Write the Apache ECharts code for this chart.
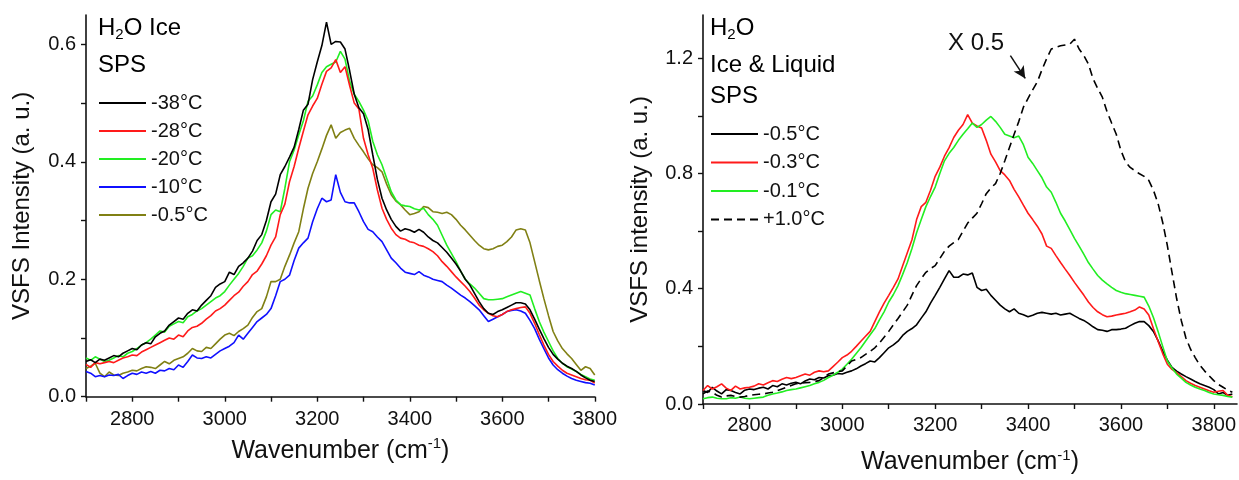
<!DOCTYPE html>
<html>
<head>
<meta charset="utf-8">
<script src="https://cdn.jsdelivr.net/npm/echarts@6/dist/echarts.min.js"></script>
<style>
html,body{margin:0;padding:0;background:#fff;}
#c1{position:absolute;left:0;top:0;width:620px;height:480px;}
#c2{position:absolute;left:620px;top:0;width:619px;height:480px;}
</style>
</head>
<body>
<div id="c1"></div>
<div id="c2"></div>
<script>
// ---------- Left panel: H2O Ice, SPS ----------
const waveL = [];
for (let w = 2700; w <= 3800; w += 10) waveL.push(w);
const namesL = ['-38°C', '-28°C', '-20°C', '-10°C', '-0.5°C'];
const colorsL = ['#000000', '#ff1a1a', '#22ee22', '#1010ff', '#808014'];
const m38 = [
.060,.063,.058,.064,.062,.066,.070,.068,.074,.078,
.082,.080,.088,.092,.090,.102,.108,.112,.122,.128,
.134,.132,.142,.148,.146,.156,.164,.172,.186,.192,
.196,.212,.208,.222,.228,.236,.248,.266,.276,.300,
.332,.345,.378,.392,.408,.425,.455,.488,.498,.540,
.570,.598,.638,.600,.605,.604,.592,.555,.515,.492,
.482,.455,.412,.370,.338,.318,.302,.290,.282,.286,
.284,.280,.285,.280,.272,.266,.262,.254,.246,.236,
.226,.214,.200,.190,.176,.162,.150,.142,.140,.145,
.148,.152,.156,.160,.160,.158,.148,.132,.115,.099,
.084,.072,.064,.057,.052,.048,.043,.037,.032,.028,.026];
const m28 = [
.055,.050,.058,.056,.058,.060,.058,.062,.066,.068,
.071,.070,.076,.080,.084,.088,.092,.096,.100,.098,
.105,.102,.112,.118,.120,.125,.132,.138,.146,.150,
.156,.164,.172,.178,.188,.196,.208,.214,.226,.240,
.258,.272,.310,.328,.366,.392,.423,.452,.480,.495,
.508,.532,.554,.560,.574,.552,.562,.530,.500,.490,
.440,.412,.389,.352,.321,.302,.287,.276,.270,.268,
.264,.262,.258,.256,.252,.247,.240,.230,.222,.213,
.204,.196,.188,.179,.168,.156,.148,.142,.138,.136,
.140,.145,.148,.150,.152,.153,.142,.125,.106,.088,
.072,.060,.052,.045,.040,.037,.034,.031,.029,.028,.023];
const m20 = [
.066,.062,.068,.064,.060,.062,.066,.070,.068,.074,
.077,.082,.088,.092,.098,.105,.112,.110,.120,.124,
.128,.126,.136,.140,.146,.150,.156,.162,.168,.172,
.179,.190,.200,.210,.222,.236,.240,.250,.262,.282,
.310,.318,.315,.355,.400,.420,.446,.470,.503,.512,
.531,.552,.562,.566,.570,.588,.575,.537,.515,.503,
.488,.470,.435,.412,.395,.372,.349,.335,.327,.325,
.324,.320,.318,.321,.310,.302,.292,.275,.258,.244,
.230,.214,.200,.192,.185,.176,.167,.165,.165,.166,
.167,.170,.173,.176,.179,.176,.173,.150,.128,.110,
.094,.078,.065,.057,.051,.047,.043,.038,.034,.030,.028];
const m10 = [
.043,.040,.034,.036,.034,.037,.036,.038,.031,.036,
.040,.038,.042,.040,.043,.040,.045,.044,.048,.046,
.054,.050,.060,.071,.066,.065,.068,.066,.072,.078,
.082,.086,.092,.105,.098,.108,.118,.128,.134,.140,
.150,.172,.196,.200,.207,.232,.253,.262,.270,.298,
.320,.338,.332,.335,.378,.348,.332,.330,.330,.315,
.298,.285,.281,.272,.264,.250,.236,.228,.219,.212,
.210,.208,.213,.207,.204,.200,.198,.196,.190,.185,
.179,.173,.168,.162,.155,.148,.138,.128,.132,.136,
.140,.145,.147,.148,.146,.142,.130,.116,.098,.082,
.066,.054,.046,.040,.035,.031,.028,.026,.024,.023,.020];
const m05 = [
.048,.052,.057,.040,.034,.042,.037,.036,.040,.042,
.045,.044,.048,.051,.050,.048,.054,.060,.056,.062,
.065,.068,.074,.082,.078,.077,.084,.082,.090,.098,
.105,.108,.104,.111,.116,.122,.135,.145,.150,.170,
.196,.196,.200,.222,.241,.262,.281,.320,.355,.380,
.400,.422,.445,.463,.440,.450,.454,.457,.440,.428,
.417,.405,.395,.390,.383,.362,.344,.333,.327,.318,
.310,.312,.315,.324,.322,.315,.314,.312,.314,.310,
.302,.292,.284,.275,.266,.258,.252,.250,.252,.256,
.258,.264,.272,.284,.286,.284,.262,.230,.198,.167,
.138,.111,.095,.082,.073,.065,.055,.045,.051,.048,.037];
const valuesL = [m38, m28, m20, m10, m05];

// ---------- Right panel: H2O Ice & Liquid, SPS ----------
const waveR = [];
for (let w = 2700; w <= 3840; w += 10) waveR.push(w);
const namesR = ['-0.5°C', '-0.3°C', '-0.1°C', '+1.0°C'];
const colorsR = ['#000000', '#ff1a1a', '#22ee22', '#000000'];
const r05 = [
.047,.040,.058,.045,.035,.050,.047,.040,.035,.048,
.052,.050,.055,.058,.052,.064,.060,.070,.066,.072,
.075,.070,.080,.087,.084,.092,.090,.098,.100,.106,
.104,.110,.115,.122,.132,.140,.149,.146,.161,.178,
.195,.205,.218,.238,.252,.262,.275,.298,.320,.350,
.377,.405,.434,.463,.440,.440,.451,.448,.455,.405,
.394,.398,.377,.360,.343,.330,.320,.330,.315,.310,
.303,.308,.315,.318,.315,.312,.315,.309,.312,.315,
.306,.297,.290,.280,.268,.258,.256,.252,.258,.258,
.260,.263,.272,.280,.286,.286,.272,.252,.220,.184,
.152,.127,.114,.104,.095,.087,.078,.070,.064,.058,
.050,.035,.040,.030,.035];
const r03 = [
.047,.064,.052,.060,.070,.055,.047,.062,.052,.056,
.058,.062,.070,.066,.074,.081,.078,.086,.092,.088,
.092,.098,.104,.100,.110,.115,.112,.115,.130,.145,
.161,.170,.183,.200,.218,.235,.252,.286,.320,.350,
.377,.405,.434,.480,.525,.570,.640,.685,.700,.742,
.790,.822,.860,.890,.925,.950,.970,1.004,.975,.965,
.958,.915,.867,.840,.810,.795,.776,.745,.719,.690,
.662,.640,.617,.590,.548,.540,.515,.491,.468,.446,
.422,.400,.378,.354,.335,.320,.310,.303,.305,.309,
.312,.315,.320,.326,.337,.330,.309,.262,.218,.175,
.138,.120,.109,.095,.081,.072,.064,.058,.052,.046,
.041,.044,.047,.030,.025];
const r01 = [
.018,.022,.024,.020,.018,.018,.022,.020,.024,.020,
.018,.020,.022,.024,.030,.035,.038,.042,.047,.050,
.052,.056,.060,.064,.070,.075,.082,.092,.100,.110,
.121,.138,.155,.175,.195,.218,.240,.262,.292,.320,
.354,.380,.411,.450,.491,.540,.594,.640,.685,.720,
.753,.800,.844,.870,.890,.915,.936,.955,.975,.960,
.970,.985,.998,.981,.960,.936,.930,.924,.930,.900,
.856,.835,.810,.785,.753,.735,.700,.662,.635,.605,
.575,.548,.520,.491,.468,.446,.430,.417,.405,.394,
.388,.383,.380,.377,.374,.371,.340,.300,.252,.200,
.149,.125,.104,.090,.075,.066,.058,.052,.047,.040,
.035,.032,.030,.026,.024];
const p10 = [
.035,.045,.041,.030,.024,.028,.030,.026,.024,.026,
.030,.032,.034,.035,.038,.041,.046,.052,.058,.064,
.070,.072,.074,.075,.078,.081,.092,.104,.108,.112,
.115,.132,.149,.155,.161,.172,.183,.195,.212,.232,
.252,.275,.297,.320,.343,.378,.411,.435,.457,.470,
.480,.505,.530,.548,.560,.571,.600,.628,.645,.662,
.695,.730,.750,.765,.800,.844,.890,.936,.980,1.030,
1.061,1.090,1.118,1.160,1.198,1.232,1.238,1.243,1.246,1.249,
1.266,1.232,1.210,1.180,1.129,1.095,1.065,1.015,.975,.936,
.880,.840,.821,.810,.799,.790,.776,.742,.696,.630,
.550,.457,.366,.290,.229,.190,.161,.135,.115,.098,
.081,.068,.058,.048,.041];
const valuesR = [r05, r03, r01, p10];

const FONT = "'Liberation Sans', Arial, Helvetica, sans-serif";
const subRich = {
  a: {fontSize: 24, fontFamily: FONT, color: '#111', lineHeight: 28},
  s: {fontSize: 15, fontFamily: FONT, color: '#111', verticalAlign: 'bottom', lineHeight: 15}
};
const nameRich = {
  a: {fontSize: 25, fontFamily: FONT, color: '#111', lineHeight: 29},
  s: {fontSize: 15, fontFamily: FONT, color: '#111', verticalAlign: 'top', lineHeight: 15}
};
const axisLineStyle = {color: '#111', width: 1.6};

function xAxisDef(max, nameGap, labelMargin) {
  const ticks = [], labels = [];
  for (let v = 2700; v <= max; v += 100) ticks.push(v);
  for (let v = 2800; v <= max; v += 200) labels.push(v);
  return {
    type: 'value', min: 2700, max: max,
    axisLine: {show: true, onZero: false, lineStyle: axisLineStyle},
    axisTick: {show: true, length: 5, lineStyle: {color: '#111', width: 1.4}, customValues: ticks},
    axisLabel: {fontSize: 20, fontFamily: FONT, color: '#111', margin: labelMargin, customValues: labels,
                formatter: v => String(v)},
    splitLine: {show: false},
    name: '{a|Wavenumber (cm}{s|-1}{a|)}',
    nameLocation: 'middle', nameGap: nameGap,
    nameTextStyle: {rich: nameRich}
  };
}
function yAxisDef(max, labels, ticks, title, nameGap) {
  return {
    type: 'value', min: 0, max: max,
    axisLine: {show: true, onZero: false, lineStyle: axisLineStyle},
    axisTick: {show: true, length: 5, lineStyle: {color: '#111', width: 1.4}, customValues: ticks},
    axisLabel: {fontSize: 20, fontFamily: FONT, color: '#111', margin: 10, customValues: labels,
                formatter: v => v.toFixed(1)},
    splitLine: {show: false},
    name: title, nameLocation: 'middle', nameGap: nameGap,
    nameTextStyle: {fontSize: 24, fontFamily: FONT, color: '#111'}
  };
}
function legendDef(names, top, gap) {
  return {
    orient: 'vertical', left: 0, top: top, padding: 0,
    itemWidth: 47, itemHeight: 20, itemGap: gap,
    itemStyle: {opacity: 0},
    textStyle: {fontSize: 20, fontFamily: FONT, color: '#111'},
    data: names
  };
}

// Left chart
const chartL = echarts.init(document.getElementById('c1'), null, {renderer: 'canvas'});
const legL = legendDef(namesL, 93, 8); legL.left = 98;
chartL.setOption({
  animation: false,
  backgroundColor: '#fff',
  grid: {left: 86, top: 15, width: 519, height: 381.7},
  xAxis: xAxisDef(3800, 40, 13),
  yAxis: yAxisDef(0.65, [0, 0.2, 0.4, 0.6], [0, 0.1, 0.2, 0.3, 0.4, 0.5, 0.6], 'VSFS Intensity (a. u.)', 52),
  legend: legL,
  graphic: [
    {type: 'text', left: 98, top: 16, style: {text: '{a|H}{s|2}{a|O Ice}', rich: subRich}},
    {type: 'text', left: 98, top: 53, style: {text: '{a|SPS}', rich: subRich}}
  ],
  series: valuesL.map((arr, i) => ({
    name: namesL[i], type: 'line', symbol: 'none', smooth: false,
    color: colorsL[i],
    lineStyle: {width: 1.6, color: colorsL[i]},
    data: waveL.map((w, j) => [w, arr[j]])
  })).reverse()
});

// Right chart
const chartR = echarts.init(document.getElementById('c2'), null, {renderer: 'canvas'});
const legR = legendDef(namesR, 124, 8.5); legR.left = 90;
chartR.setOption({
  animation: false,
  backgroundColor: '#fff',
  grid: {left: 77, top: 15, width: 540, height: 393.7},
  xAxis: xAxisDef(3850, 44, 11),
  yAxis: yAxisDef(1.35, [0, 0.4, 0.8, 1.2], [0, 0.2, 0.4, 0.6, 0.8, 1.0, 1.2], 'VSFS intensity (a. u.)', 51),
  legend: legR,
  graphic: [
    {type: 'text', left: 90, top: 16, style: {text: '{a|H}{s|2}{a|O}', rich: subRich}},
    {type: 'text', left: 90, top: 53, style: {text: '{a|Ice & Liquid}', rich: subRich}},
    {type: 'text', left: 90, top: 84, style: {text: '{a|SPS}', rich: subRich}},
    {type: 'text', left: 328, top: 31, style: {text: 'X 0.5', fontSize: 24, fontFamily: FONT, fill: '#111'}}
  ],
  series: valuesR.map((arr, i) => ({
    name: namesR[i], type: 'line', symbol: 'none', smooth: false,
    color: colorsR[i],
    lineStyle: {width: 1.6, color: colorsR[i], type: i === 3 ? [8, 5] : 'solid'},
    data: waveR.map((w, j) => [w, arr[j]]),
    markLine: i === 3 ? {
      silent: true, symbol: ['none', 'arrow'], symbolSize: [9, 12],
      label: {show: false},
      lineStyle: {color: '#111', width: 1.5, type: 'solid'},
      data: [[{coord: [3362, 1.209]}, {coord: [3394, 1.13]}]]
    } : undefined
  }))
});
</script>
</body>
</html>
